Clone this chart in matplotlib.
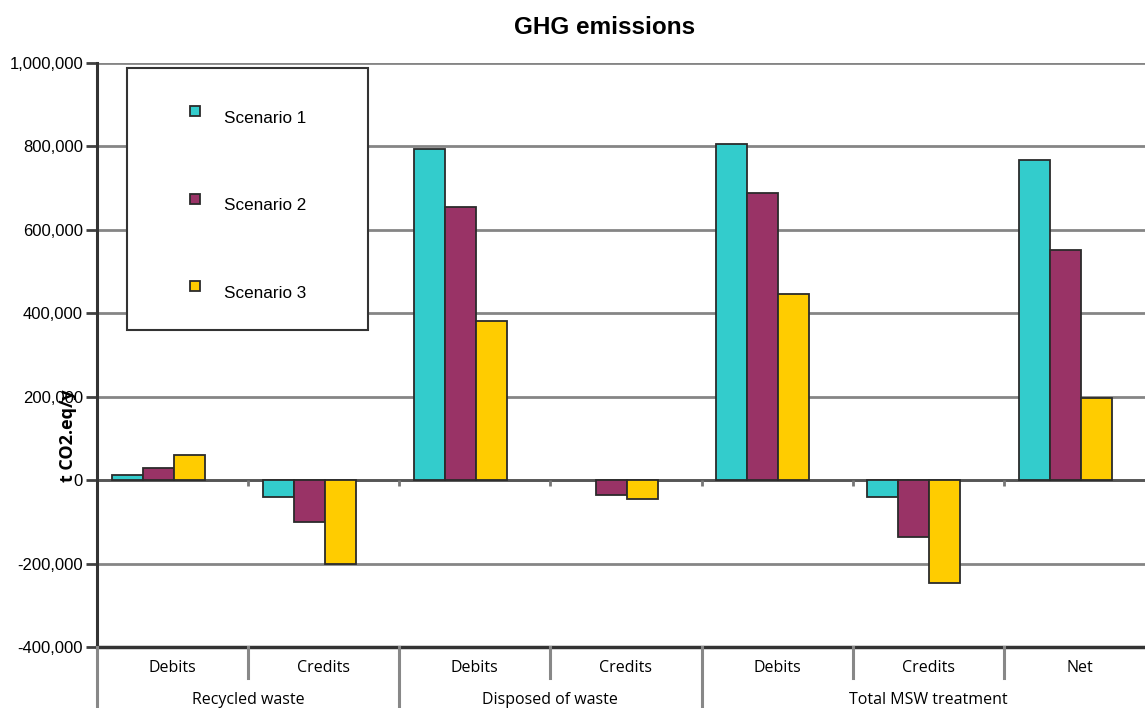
import numpy as np
import matplotlib
matplotlib.use("Agg")
import matplotlib.pyplot as plt
from matplotlib.patches import Rectangle
import matplotlib.transforms as mtransforms

# ---- data ----
sub_labels = ["Debits", "Credits", "Debits", "Credits", "Debits", "Credits", "Net"]
group_labels = ["Recycled waste", "Disposed of waste", "Total MSW treatment"]
group_sizes = [2, 2, 3]
series_names = ["Scenario 1", "Scenario 2", "Scenario 3"]
scenario1 = [13000, -40000, 795000, 0, 806000, -40000, 767000]
scenario2 = [28000, -100000, 655000, -36000, 689000, -136000, 551000]
scenario3 = [60000, -200000, 382000, -46000, 446000, -246000, 196000]
colors = ["#33CCCC", "#993366", "#FFCC00"]
yticks = [-400000, -200000, 0, 200000, 400000, 600000, 800000, 1000000]

W, H = 1145, 708
fig = plt.figure(figsize=(W / 100, H / 100), dpi=100)
left, right, top, bottom = 97, 1155, 63, 647
ax = fig.add_axes([left / W, (H - bottom) / H, (right - left) / W, (bottom - top) / H])

n = len(sub_labels)
x = np.arange(n)
bw = 0.205
offset = -0.095
for i, (vals, c) in enumerate(zip([scenario1, scenario2, scenario3], colors)):
    v = np.array(vals, dtype=float)
    ax.bar(x + offset + (i - 1) * bw, v, width=bw, color=c, edgecolor="#2b2b2b",
           linewidth=1.3 * (v != 0), zorder=3)

ax.set_xlim(-0.5, n - 0.5)
ax.set_ylim(-400000, 1000000)
ax.set_yticks(yticks)
ax.set_yticklabels([f"{v:,}" for v in yticks], fontsize=12, family="Liberation Sans")
ax.tick_params(axis="y", length=8, width=2, color="#404040", pad=2)
ax.set_xticks([])

for v in yticks:
    ax.axhline(v, color="#858585", lw=2, zorder=1)
ax.axhline(0, color="#555555", lw=2, zorder=2)

for s in ["top", "right"]:
    ax.spines[s].set_visible(False)
ax.spines["left"].set_color("#333333")
ax.spines["left"].set_linewidth(2.2)
ax.spines["bottom"].set_color("#333333")
ax.spines["bottom"].set_linewidth(2.5)

# small ticks at zero line between categories
bounds = np.arange(n + 1) - 0.5
ax.vlines(bounds[1:-1], -14000, 0, color="#777777", lw=2, zorder=2)

# category labels below
trans = mtransforms.blended_transform_factory(ax.transData, ax.transAxes)
ax_h = bottom - top
for xi, lab in zip(x, sub_labels):
    ax.text(xi, -21 / ax_h, lab, transform=trans, ha="center", va="center",
            fontsize=11.5, family="Open Sans")
starts = np.cumsum([0] + group_sizes)
for gi, lab in enumerate(group_labels):
    cx = (starts[gi] + starts[gi + 1] - 1) / 2
    ax.text(cx, -53 / ax_h, lab, transform=trans, ha="center", va="center",
            fontsize=11.5, family="Open Sans")
group_bounds = set(starts - 0.5)
for b in bounds:
    length = 65 if b in group_bounds else 31
    ax.plot([b, b], [0, -length / ax_h], transform=trans, color="#888888", lw=2.2,
            clip_on=False, zorder=4)

# legend box
lx0, ly0, lx1, ly1 = 127, 68, 368, 330
def fx(px):
    return (px - left) / (right - left)
def fy(py):
    return (bottom - py) / (bottom - top)
ax.add_patch(Rectangle((fx(lx0), fy(ly1)), fx(lx1) - fx(lx0), fy(ly0) - fy(ly1),
                       transform=ax.transAxes, facecolor="white", edgecolor="#333333",
                       lw=1.5, zorder=5))
for name, c, my, ty in zip(series_names, colors, [111, 199, 286], [118, 205, 293]):
    ax.add_patch(Rectangle((fx(190), fy(my + 5)), fx(200) - fx(190), fy(my - 5) - fy(my + 5),
                           transform=ax.transAxes, facecolor=c, edgecolor="#2b2b2b",
                           lw=1.3, zorder=6))
    ax.text(fx(224), fy(ty), name, transform=ax.transAxes, ha="left", va="center",
            fontsize=12.3, family="Liberation Sans", zorder=6)

fig.text(605 / W, 1 - 27 / H, "GHG emissions", ha="center", va="center",
         fontsize=17.5, fontweight="bold", family="Liberation Sans")
fig.text(68 / W, 1 - 436 / H, "t CO2.eq/y", rotation=90, ha="center", va="center",
         fontsize=13, fontweight="bold", family="Open Sans")

fig.savefig("out.png", dpi=100)
